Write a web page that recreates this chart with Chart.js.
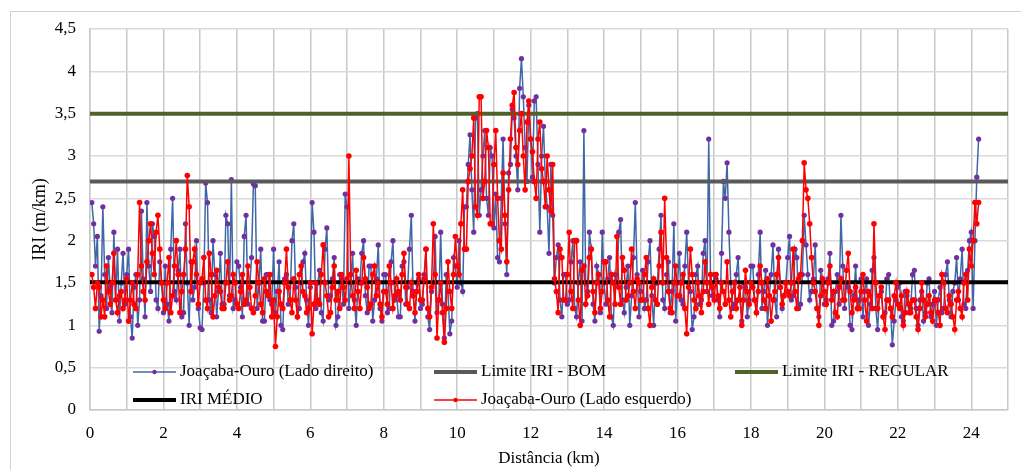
<!DOCTYPE html>
<html>
<head>
<meta charset="utf-8">
<script src="https://cdn.jsdelivr.net/npm/chart.js@4"></script>
<style>
  body { margin: 0; background: #fff; }
  #wrap { width: 1021px; height: 470px; position: relative; }
</style>
</head>
<body>
<div id="wrap"><canvas id="iri" width="1021" height="470"></canvas></div>
<script>
// distancia inicial e passo das leituras (km)
const kmStart = 0.05;
const kmStep = 0.05;

// IRI lado direito (m/km), 20 leituras por km
const ladoDireito = [
  2.45, 2.2, 1.7, 2.05, 0.93, 1.35, 2.4, 1.6, 1.2, 1.8, 1.45, 1.15, 2.1, 1.3, 1.9, 1.05, 1.5, 1.85, 1.25, 1.6,
  1.9, 1.1, 0.85, 1.45, 1.6, 1.0, 1.3, 2.35, 1.55, 1.1, 2.45, 1.7, 1.4, 2.2, 2.05, 1.3, 1.2, 1.75, 1.5, 1.15,
  1.7, 1.25, 1.05, 1.9, 2.5, 1.4, 1.3, 1.65, 1.9, 1.1, 1.15, 2.2, 1.5, 1.0, 1.75, 1.3, 1.45, 2.0, 1.2, 0.97,
  0.95, 1.5, 2.68, 2.45, 1.3, 1.15, 2.0, 1.6, 1.1, 1.4, 1.85, 1.25, 1.25, 2.3, 2.2, 1.35, 2.72, 1.2, 1.3, 1.75,
  1.7, 1.45, 1.1, 2.05, 2.3, 1.25, 1.45, 1.8, 2.67, 2.65, 1.2, 1.5, 1.9, 1.05, 1.05, 1.6, 1.6, 1.3, 1.25, 1.9,
  1.15, 1.4, 1.75, 1.0, 0.95, 1.55, 1.6, 1.25, 1.3, 2.0, 2.2, 1.45, 1.1, 1.2, 1.5, 1.75, 1.85, 1.3, 1.0, 1.45,
  2.45, 2.1, 1.2, 1.5, 1.65, 1.15, 1.05, 1.9, 2.15, 1.3, 1.35, 1.55, 1.8, 1.0, 1.1, 1.6, 1.55, 1.25, 2.55, 2.4,
  1.2, 1.5, 1.85, 1.3, 1.0, 1.55, 1.5, 1.85, 2.0, 1.35, 1.15, 1.7, 1.7, 1.05, 1.3, 1.55, 1.95, 1.2, 1.05, 1.6,
  1.6, 1.15, 1.2, 1.75, 2.0, 1.3, 1.35, 1.1, 1.1, 1.7, 1.75, 1.25, 1.45, 1.9, 2.3, 1.4, 1.05, 1.5, 1.55, 1.2,
  1.25, 1.6, 1.9, 1.1, 0.95, 1.4, 1.5, 2.05, 1.15, 1.3, 2.1, 1.25, 0.85, 1.6, 1.4, 0.9, 1.05, 1.8, 1.7, 1.45,
  2.0, 1.5, 1.4, 2.4, 2.4, 2.9, 3.25, 2.6, 2.1, 3.45, 3.5, 2.3, 2.6, 3.0, 3.3, 2.5, 2.3, 3.1, 3.0, 2.15,
  2.55, 1.8, 1.75, 2.5, 3.2, 2.2, 1.6, 2.8, 2.9, 3.55, 3.45, 3.0, 2.6, 3.8, 4.15, 3.7, 3.1, 2.7, 3.6, 3.2,
  2.75, 3.65, 3.7, 2.9, 2.1, 3.0, 3.35, 2.7, 2.4, 1.85, 2.9, 2.3, 1.5, 1.8, 1.95, 1.3, 1.1, 1.6, 1.6, 1.25,
  1.3, 1.75, 2.0, 1.2, 1.1, 1.5, 1.75, 1.05, 3.3, 1.5, 1.4, 2.1, 1.9, 1.25, 1.05, 1.7, 1.6, 1.15, 2.1, 1.5,
  1.25, 1.55, 1.8, 1.1, 1.0, 1.6, 1.5, 2.1, 2.25, 1.3, 1.15, 1.45, 1.7, 1.0, 1.35, 1.8, 2.45, 1.6, 1.1, 1.4,
  1.65, 1.2, 1.3, 1.75, 2.0, 1.35, 1.0, 1.5, 1.5, 1.9, 2.3, 1.3, 1.2, 1.6, 1.75, 1.15, 1.4, 2.2, 1.05, 1.5,
  1.85, 1.3, 1.25, 1.7, 2.1, 1.5, 1.4, 0.95, 1.1, 1.6, 1.7, 1.25, 1.3, 1.85, 2.0, 1.4, 3.2, 1.5, 1.35, 1.6,
  1.55, 1.3, 1.1, 1.85, 2.7, 2.5, 2.92, 2.1, 1.5, 1.2, 1.25, 1.6, 1.8, 1.3, 1.05, 1.5, 1.45, 1.1, 1.3, 1.7,
  1.7, 1.3, 1.15, 1.6, 2.1, 1.2, 1.4, 1.65, 1.0, 1.35, 1.6, 1.95, 1.3, 1.1, 1.9, 1.45, 1.2, 1.35, 1.5, 1.8,
  2.05, 1.3, 1.35, 1.9, 1.8, 1.2, 1.25, 1.6, 2.3, 1.95, 1.6, 1.3, 1.4, 1.55, 1.95, 1.2, 1.1, 1.65, 1.5, 1.25,
  1.3, 1.55, 1.85, 1.0, 1.05, 1.4, 1.6, 1.25, 2.3, 1.7, 1.2, 1.5, 1.45, 1.0, 0.95, 1.35, 1.7, 1.2, 1.3, 1.55,
  1.1, 1.4, 1.55, 1.0, 1.25, 1.65, 1.8, 1.2, 0.95, 1.35, 1.4, 1.1, 1.15, 1.55, 1.6, 1.2, 0.77, 1.05, 1.3, 1.45,
  1.5, 1.1, 1.05, 1.4, 1.35, 1.15, 1.2, 1.6, 1.65, 1.2, 1.0, 1.3, 1.4, 1.05, 1.15, 1.5, 1.55, 1.1, 1.25, 1.4,
  1.0, 1.3, 1.45, 1.15, 1.2, 1.6, 1.75, 1.3, 1.1, 1.4, 1.5, 1.8, 1.3, 1.55, 1.9, 1.25, 1.2, 1.65, 2.0, 2.1,
  1.2, 2.0, 2.75, 3.2
];

// IRI lado esquerdo (m/km)
const ladoEsquerdo = [
  1.6, 1.45, 1.2, 1.5, 1.45, 1.1, 1.3, 1.1, 1.7, 1.4, 1.25, 1.5, 1.85, 1.3, 1.15, 1.35, 1.4, 1.2, 1.3, 1.55,
  1.05, 1.3, 1.5, 1.25, 1.2, 1.6, 2.45, 1.7, 1.4, 1.3, 1.75, 2.0, 2.2, 1.85, 1.6, 2.1, 2.3, 1.9, 1.5, 1.3,
  1.2, 1.5, 1.8, 1.15, 1.35, 1.7, 2.0, 1.6, 1.15, 1.4, 1.6, 1.9, 2.77, 2.4, 1.4, 1.75, 1.9, 1.6, 1.25, 1.5,
  1.55, 1.8, 1.3, 1.2, 1.85, 1.6, 1.1, 1.35, 1.65, 1.45, 1.4, 1.2, 1.2, 1.5, 1.75, 1.3, 1.35, 1.6, 1.5, 1.25,
  1.2, 1.4, 1.6, 1.25, 1.3, 1.7, 1.45, 1.2, 1.15, 1.35, 1.75, 1.5, 1.25, 1.15, 1.55, 1.4, 1.35, 1.6, 1.1, 1.3,
  0.75, 1.1, 1.4, 1.25, 1.2, 1.5, 1.9, 1.45, 1.3, 1.15, 1.55, 1.3, 1.1, 1.6, 1.7, 1.4, 1.35, 1.15, 1.2, 1.5,
  0.9, 1.25, 1.5, 1.3, 1.25, 1.6, 1.95, 1.5, 1.35, 1.1, 1.15, 1.45, 1.7, 1.3, 1.4, 1.2, 1.6, 1.45, 1.3, 1.55,
  3.0, 1.6, 1.35, 1.2, 1.65, 1.4, 1.2, 1.5, 1.8, 1.55, 1.45, 1.2, 1.25, 1.6, 1.7, 1.35, 1.5, 1.25, 1.1, 1.4,
  1.4, 1.25, 1.7, 1.5, 1.2, 1.35, 1.55, 1.4, 1.3, 1.6, 1.85, 1.45, 1.25, 1.2, 1.5, 1.35, 1.15, 1.4, 1.6, 1.3,
  1.3, 1.55, 1.9, 1.2, 1.1, 1.45, 2.2, 1.6, 0.85, 1.3, 1.5, 1.15, 0.8, 1.2, 1.75, 1.4, 1.2, 1.6, 2.05, 1.7,
  1.6, 2.2, 2.6, 1.9, 1.9, 2.7, 2.85, 3.0, 3.45, 2.4, 2.3, 3.7, 3.7, 2.5, 2.7, 3.3, 3.1, 2.2, 2.2, 2.9,
  3.3, 2.5, 2.0, 1.9, 2.8, 2.3, 1.75, 2.6, 3.2, 3.6, 3.75, 3.1, 2.9, 3.3, 3.5, 3.0, 2.6, 3.4, 3.65, 3.2,
  3.05, 2.7, 2.5, 3.2, 3.4, 2.85, 2.7, 2.4, 3.0, 2.6, 2.35, 2.9, 1.55, 1.4, 1.15, 1.9, 1.8, 1.3, 1.3, 1.6,
  2.1, 1.4, 1.2, 2.0, 2.0, 1.3, 1.0, 1.65, 1.7, 1.25, 1.35, 1.8, 1.9, 1.4, 1.15, 1.5, 1.6, 1.2, 1.4, 1.75,
  1.75, 1.3, 1.1, 1.6, 1.5, 1.25, 2.05, 1.45, 1.25, 1.8, 1.65, 1.3, 1.35, 1.5, 1.9, 1.4, 1.2, 1.55, 1.5, 1.3,
  1.3, 1.6, 1.8, 1.2, 1.0, 1.45, 1.55, 1.3, 1.25, 1.7, 2.1, 1.5, 2.5, 1.8, 1.4, 1.2, 1.15, 1.5, 1.7, 1.35,
  1.35, 1.5, 1.6, 1.2, 0.9, 1.45, 1.9, 1.6, 1.3, 1.2, 1.5, 1.35, 1.15, 1.4, 1.75, 1.5, 1.25, 1.6, 1.45, 1.3,
  1.6, 1.35, 1.2, 1.5, 1.4, 1.25, 1.75, 1.3, 1.1, 1.4, 1.5, 1.2, 1.3, 1.45, 1.0, 1.3, 1.65, 1.4, 1.25, 1.5,
  1.45, 1.3, 1.15, 1.4, 1.7, 1.5, 1.3, 1.2, 1.55, 1.35, 1.05, 1.3, 1.4, 1.6, 1.8, 1.45, 1.25, 1.35, 1.5, 1.4,
  1.35, 1.5, 1.9, 1.4, 1.2, 1.55, 1.6, 2.0, 2.92, 2.6, 2.5, 2.2, 1.8, 1.5, 1.4, 1.2, 1.0, 1.35, 1.55, 1.4,
  1.25, 1.5, 1.7, 1.3, 1.4, 1.15, 1.1, 1.45, 1.55, 1.3, 1.3, 1.65, 1.85, 1.4, 1.15, 1.3, 1.45, 1.2, 1.2, 1.4,
  1.6, 1.3, 1.05, 1.4, 1.35, 1.2, 2.2, 1.5, 1.2, 1.35, 1.45, 1.1, 0.95, 1.3, 1.3, 1.2, 1.1, 1.35, 1.5, 1.25,
  1.2, 1.35, 1.0, 1.15, 1.4, 1.25, 1.15, 1.3, 1.3, 1.1, 0.95, 1.2, 1.5, 1.3, 1.1, 1.25, 1.35, 1.15, 1.05, 1.3,
  1.3, 1.15, 1.0, 1.6, 1.5, 1.2, 1.15, 1.35, 1.25, 1.1, 0.95, 1.3, 1.4, 1.2, 1.1, 1.5, 1.6, 1.3, 1.9, 1.7,
  2.0, 2.45, 2.2, 2.45
];

// linhas de referencia
const limiteBom = 2.7;
const limiteRegular = 3.5;
const iriMedio = 1.51;
const kmMax = 25;

const yTicks = [0, 0.5, 1, 1.5, 2, 2.5, 3, 3.5, 4, 4.5];

const serif = '"Liberation Serif", "Times New Roman", serif';
const fontSize = 17;

function toPoints(values) {
  return values.map((v, i) => ({ x: +(kmStart + i * kmStep).toFixed(2), y: v }));
}

function flatLine(y) {
  return [{ x: 0, y: y }, { x: kmMax, y: y }];
}

// legenda no estilo do Excel, dentro da area do grafico
const legendSpots = [
  { x: 133, y: 372 }, { x: 434, y: 372 }, { x: 735, y: 372 },
  { x: 133, y: 400 }, { x: 434, y: 400 }
];

const excelLegend = {
  id: 'excelLegend',
  beforeDraw(chart) {
    const ctx = chart.ctx;
    ctx.save();
    ctx.fillStyle = '#fff';
    ctx.fillRect(0, 0, chart.width, chart.height);
    ctx.strokeStyle = '#d0d0d0';
    ctx.lineWidth = 1;
    ctx.strokeRect(10.5, 11.5, chart.width, chart.height);
    ctx.restore();
  },
  afterDraw(chart) {
    const ctx = chart.ctx;
    const sets = chart.data.datasets.slice().sort((a, b) => a.legendPos - b.legendPos);
    ctx.save();
    sets.forEach((ds, i) => {
      const p = legendSpots[i];
      ctx.strokeStyle = ds.borderColor;
      ctx.lineWidth = ds.borderWidth;
      ctx.beginPath();
      ctx.moveTo(p.x, p.y);
      ctx.lineTo(p.x + 43, p.y);
      ctx.stroke();
      if (ds.legendMarker) {
        ctx.fillStyle = ds.pointBackgroundColor;
        ctx.beginPath();
        ctx.arc(p.x + 21.5, p.y, 2.2, 0, Math.PI * 2);
        ctx.fill();
      }
      ctx.fillStyle = '#000';
      ctx.font = fontSize + 'px ' + serif;
      ctx.textBaseline = 'middle';
      ctx.fillText(ds.label, p.x + 47, p.y);
    });
    ctx.restore();
  }
};

new Chart(document.getElementById('iri'), {
  type: 'line',
  data: {
    datasets: [
      {
        label: 'Joaçaba-Ouro (Lado esquerdo)',
        data: toPoints(ladoEsquerdo),
        borderColor: '#ff0000',
        backgroundColor: '#ff0000',
        pointBackgroundColor: '#ff0000',
        borderWidth: 1.5,
        pointRadius: 2.8,
        pointBorderWidth: 0,
        order: 0,
        legendPos: 4,
        legendMarker: true
      },
      {
        label: 'IRI MÉDIO',
        data: flatLine(iriMedio),
        borderColor: '#000000',
        pointBackgroundColor: '#000000',
        borderWidth: 4,
        pointRadius: 2,
        pointBorderWidth: 0,
        order: 1,
        legendPos: 3,
        legendMarker: false
      },
      {
        label: 'Limite IRI - REGULAR',
        data: flatLine(limiteRegular),
        borderColor: '#4f6228',
        borderWidth: 4,
        pointRadius: 0,
        order: 2,
        legendPos: 2,
        legendMarker: false
      },
      {
        label: 'Limite IRI - BOM',
        data: flatLine(limiteBom),
        borderColor: '#595959',
        borderWidth: 4,
        pointRadius: 0,
        order: 3,
        legendPos: 1,
        legendMarker: false
      },
      {
        label: 'Joaçaba-Ouro (Lado direito)',
        data: toPoints(ladoDireito),
        borderColor: '#3f67a8',
        backgroundColor: '#7030a0',
        pointBackgroundColor: '#7030a0',
        borderWidth: 1.5,
        pointRadius: 2.6,
        pointBorderWidth: 0,
        order: 4,
        legendPos: 0,
        legendMarker: true
      }
    ]
  },
  options: {
    responsive: false,
    devicePixelRatio: 1,
    animation: false,
    layout: { padding: { left: 0, right: 8, top: 29, bottom: 0 } },
    plugins: { legend: { display: false }, tooltip: { enabled: false } },
    elements: { line: { tension: 0 } },
    scales: {
      x: {
        type: 'linear',
        min: 0,
        max: kmMax,
        afterFit(s) { s.height = 60; },
        grid: { color: '#c8c8c8', lineWidth: 1.5, drawTicks: false },
        border: { color: '#c8c8c8', width: 1.5 },
        ticks: {
          stepSize: 1,
          autoSkip: false,
          maxRotation: 0,
          padding: 13,
          color: '#000',
          font: { family: serif, size: fontSize },
          callback: v => (v % 2 === 0 && v < kmMax ? String(v) : '')
        },
        title: {
          display: true,
          text: 'Distância (km)',
          color: '#000',
          font: { family: serif, size: fontSize },
          padding: { top: 0, bottom: 1 }
        }
      },
      y: {
        min: 0,
        max: 4.5,
        afterFit(s) { s.width = 90; },
        afterBuildTicks(s) { s.ticks = yTicks.map(v => ({ value: v })); },
        grid: { color: '#dadada', lineWidth: 1.5, drawTicks: false },
        border: { color: '#c8c8c8', width: 1.5 },
        ticks: {
          padding: 14,
          color: '#000',
          font: { family: serif, size: fontSize },
          callback: v => String(v).replace('.', ',')
        },
        title: {
          display: true,
          text: 'IRI (m/km)',
          color: '#000',
          font: { family: serif, size: 18 },
          padding: { top: 29, bottom: 0 }
        }
      }
    }
  },
  plugins: [excelLegend]
});
</script>
</body>
</html>
